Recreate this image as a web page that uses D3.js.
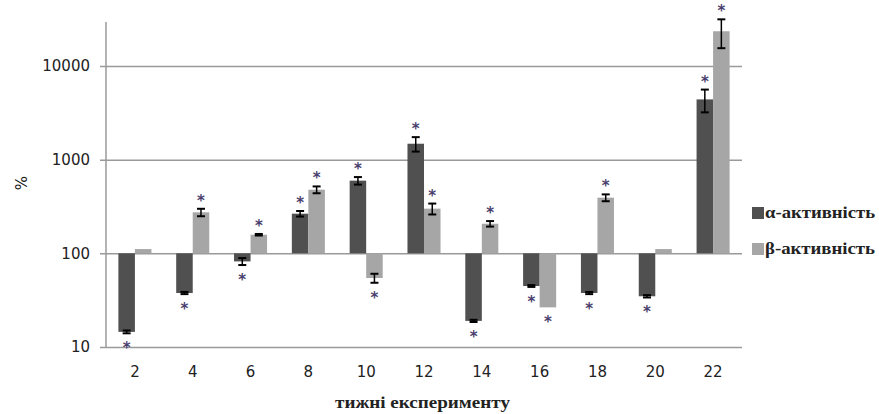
<!DOCTYPE html>
<html>
<head>
<meta charset="utf-8">
<script src="https://cdn.jsdelivr.net/npm/d3@7"></script>
<style>
  body { margin: 0; background: #fff; }
  svg { display: block; }
</style>
</head>
<body>
<script>
const w = 879;
const h = 414;

// data
const weeks = ['2', '4', '6', '8', '10', '12', '14', '16', '18', '20', '22'];
const alphaValues = [14.5, 37.7, 82, 265, 597, 1480, 19, 44.8, 37.7, 34.8, 4400];
const alphaErrors = [0.5, 1, 7, 18, 55, 260, 0.5, 1, 1, 1, 1200];
const alphaStars = [1, 1, 1, 1, 1, 1, 1, 1, 1, 1, 1];
const betaValues = [111, 274, 158, 478, 54.5, 300, 207, 26.5, 393, 111, 23500];
const betaErrors = [0, 25, 3, 40, 6, 40, 14, 0, 33, 0, 8000];
const betaStars = [0, 1, 1, 1, 1, 1, 1, 1, 1, 0, 1];
const yTicks = [10, 100, 1000, 10000];
const seriesNames = ['α-активність', 'β-активність'];
const seriesColors = ['#505050', '#a6a6a6'];

const series = [
  { key: 'a', values: alphaValues, errors: alphaErrors, stars: alphaStars },
  { key: 'b', values: betaValues, errors: betaErrors, stars: betaStars }
];

const plotLeft = 106, plotRight = 742, plotTop = 22, plotBottom = 347;

const svg = d3.select('body').append('svg')
              .attr('width', w)
              .attr('height', h);

const xScale = d3.scaleBand()
                 .domain(weeks)
                 .range([plotLeft, plotRight])
                 .padding(0);

const xInner = d3.scaleBand()
                 .domain(series.map(s => s.key))
                 .range([0, xScale.bandwidth()])
                 .paddingInner(0)
                 .paddingOuter(0.75);

const yScale = d3.scaleLog()
                 .domain([10, 29500])
                 .range([plotBottom, plotTop]);

// gridlines + y ticks
const yAxis = d3.axisLeft(yScale)
                .tickValues(yTicks)
                .tickFormat(d3.format('d'))
                .tickSize(-(plotRight - plotLeft))
                .tickSizeOuter(0);

const gy = svg.append('g')
              .attr('transform', 'translate(' + plotLeft + ',0)')
              .call(yAxis);
gy.select('.domain').remove();
gy.selectAll('.tick line')
  .attr('stroke', '#9a9a9a')
  .attr('stroke-width', 1.5)
  .attr('x1', -6);
gy.selectAll('.tick text')
  .attr('x', -16)
  .attr('font-family', 'DejaVu Sans')
  .attr('font-size', 15)
  .attr('fill', '#222');

svg.append('line')
   .attr('x1', plotLeft).attr('x2', plotLeft)
   .attr('y1', plotTop).attr('y2', plotBottom)
   .attr('stroke', '#9a9a9a')
   .attr('stroke-width', 1.5);

// x labels
const xAxis = d3.axisBottom(xScale).tickSize(0);
const gx = svg.append('g')
              .attr('transform', 'translate(0,' + plotBottom + ')')
              .call(xAxis);
gx.select('.domain').remove();
gx.selectAll('.tick text')
  .attr('y', 19)
  .attr('font-family', 'DejaVu Sans')
  .attr('font-size', 15)
  .attr('fill', '#222');

// bars
const base = yScale(100);
series.forEach((s, si) => {
  const g = svg.append('g');
  const rows = weeks.map((wk, i) => ({ wk, v: s.values[i], e: s.errors[i], star: s.stars[i] }));

  g.selectAll('rect')
   .data(rows)
   .enter()
   .append('rect')
   .attr('x', d => xScale(d.wk) + xInner(s.key))
   .attr('width', xInner.bandwidth())
   .attr('y', d => Math.min(base, yScale(d.v)))
   .attr('height', d => Math.abs(base - yScale(d.v)))
   .attr('fill', seriesColors[si]);

  const errRows = rows.filter(d => d.e > 0);
  const cx = d => xScale(d.wk) + xInner(s.key) + xInner.bandwidth() / 2;

  g.selectAll('line.err')
   .data(errRows)
   .enter()
   .append('line')
   .attr('x1', cx).attr('x2', cx)
   .attr('y1', d => yScale(d.v + d.e))
   .attr('y2', d => yScale(d.v - d.e))
   .attr('stroke', '#000')
   .attr('stroke-width', 1.5);

  [1, -1].forEach(sign => {
    g.selectAll('line.cap' + sign)
     .data(errRows)
     .enter()
     .append('line')
     .attr('x1', d => cx(d) - 4).attr('x2', d => cx(d) + 4)
     .attr('y1', d => yScale(d.v + sign * d.e))
     .attr('y2', d => yScale(d.v + sign * d.e))
     .attr('stroke', '#000')
     .attr('stroke-width', 2);
  });

  g.selectAll('text.star')
   .data(rows.filter(d => d.star))
   .enter()
   .append('text')
   .attr('x', cx)
   .attr('y', d => d.v >= 100 ? yScale(d.v + d.e) - 3 : yScale(d.v - d.e) + 20)
   .attr('text-anchor', 'middle')
   .attr('font-family', 'DejaVu Sans')
   .attr('font-weight', 'bold')
   .attr('font-size', 15)
   .attr('fill', '#4a3f6e')
   .text('*');
});

// axis titles
svg.append('text')
   .text('%')
   .attr('transform', 'rotate(-90)')
   .attr('x', -183)
   .attr('y', 27)
   .attr('text-anchor', 'middle')
   .attr('font-family', 'DejaVu Sans')
   .attr('font-size', 15)
   .attr('fill', '#222');

svg.append('text')
   .text('тижні експерименту')
   .attr('x', 335)
   .attr('y', 408)
   .attr('textLength', 175)
   .attr('lengthAdjust', 'spacingAndGlyphs')
   .attr('font-family', 'Liberation Serif')
   .attr('font-weight', 'bold')
   .attr('font-size', 16)
   .attr('fill', '#222');

// legend
const legend = svg.append('g');
seriesNames.forEach((name, i) => {
  legend.append('rect')
        .attr('x', 752)
        .attr('y', 207 + i * 36)
        .attr('width', 12)
        .attr('height', 12)
        .attr('fill', seriesColors[i]);
  legend.append('text')
        .text(name)
        .attr('x', 765)
        .attr('y', 218 + i * 36)
        .attr('textLength', 110)
        .attr('lengthAdjust', 'spacingAndGlyphs')
        .attr('font-family', 'Liberation Serif')
        .attr('font-weight', 'bold')
        .attr('font-size', 16)
        .attr('fill', '#222');
});
</script>
</body>
</html>
